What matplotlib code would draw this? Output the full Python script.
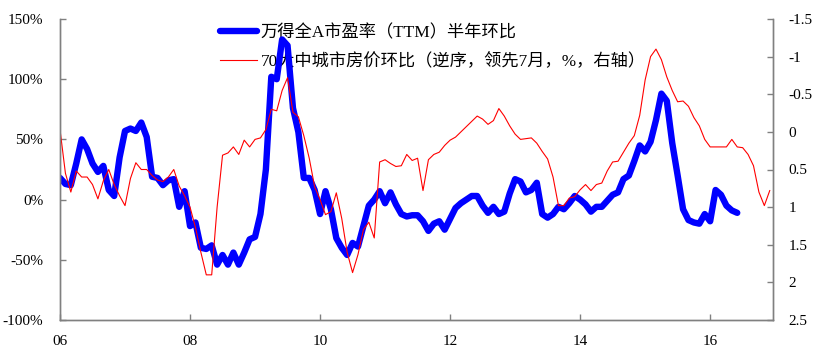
import numpy as np
import matplotlib
matplotlib.use("Agg")
import matplotlib.pyplot as plt

# 万得全A市盈率(TTM)半年环比, %, 2006-01 起按月
pe_change = [
    18, 13, 12, 30, 50, 42, 30, 23, 28, 8,
    3, 35, 57, 59, 57, 64, 52, 19, 18, 12,
    16, 17, -6, 7, -22, -19, -40, -41, -38, -54,
    -46, -54, -44, -54, -44, -33, -31, -12, 25, 102,
    100, 133, 128, 76, 56, 18, 18, 8, -12, 7,
    -8, -32, -40, -46, -36, -39, -22, -5, 0, 7,
    -3, 6, -4, -12, -14, -13, -13, -18, -26, -20,
    -18, -25, -16, -7, -3, 0, 3, 3, -5, -11,
    -6, -12, -10, 5, 17, 15, 6, 8, 14, -12,
    -15, -12, -6, -8, -3, 3, 0, -4, -10, -6,
    -6, -1, 4, 6, 17, 20, 32, 45, 40, 48,
    66, 88, 82, 47, 20, -8, -17, -19, -20, -12,
    -18, 8, 4, -5, -9, -11,
]

# 70大中城市房价环比(逆序, 领先7月), %, 右轴
house_change = [
    -0.03, 0.55, 0.80, 0.52, 0.60, 0.60, 0.70, 0.89, 0.65, 0.50,
    0.70, 0.85, 0.98, 0.62, 0.41, 0.50, 0.50, 0.58, 0.64, 0.66,
    0.60, 0.50, 0.72, 0.85, 1.00, 1.27, 1.60, 1.90, 1.90, 1.00,
    0.31, 0.28, 0.20, 0.30, 0.11, 0.20, 0.10, 0.08, -0.03, -0.30,
    -0.28, -0.55, -0.72, -0.26, -0.20, 0.05, 0.35, 0.73, 0.90, 1.10,
    1.06, 0.81, 1.15, 1.60, 1.87, 1.63, 1.30, 1.20, 1.41, 0.40,
    0.37, 0.42, 0.46, 0.45, 0.30, 0.38, 0.35, 0.78, 0.37, 0.30,
    0.27, 0.18, 0.11, 0.07, 0.00, -0.07, -0.14, -0.21, -0.17, -0.10,
    -0.15, -0.31, -0.21, -0.08, 0.03, 0.10, 0.09, 0.08, 0.15, 0.26,
    0.36, 0.60, 0.98, 0.98, 0.88, 0.86, 0.77, 0.70, 0.78, 0.70,
    0.68, 0.52, 0.40, 0.39, 0.27, 0.15, 0.05, -0.22, -0.69, -1.00,
    -1.10, -0.96, -0.73, -0.55, -0.40, -0.41, -0.34, -0.19, -0.08, 0.10,
    0.20, 0.20, 0.20, 0.20, 0.10, 0.20, 0.21, 0.30, 0.45, 0.80,
    0.98, 0.78,
]

x_tick_labels = ["06", "08", "10", "12", "14", "16"]
left_ticks = [-100, -50, 0, 50, 100, 150]
right_ticks = [-1.5, -1, -0.5, 0, 0.5, 1, 1.5, 2, 2.5]

pe_label = "万得全A市盈率（TTM）半年环比"
house_label = "70大中城市房价环比（逆序，领先7月，%，右轴）"

SERIF = ["Liberation Serif", "DejaVu Serif"]
LEGEND_FONT = ["Liberation Serif", "Noto Sans CJK SC", "DejaVu Sans"]
AXIS_GREY = "#808080"


def style_axis(ax):
    for side in ["left", "right", "bottom"]:
        ax.spines[side].set_color(AXIS_GREY)
        ax.spines[side].set_linewidth(1.0)
    ax.spines["top"].set_visible(False)
    ax.tick_params(direction="in", length=4, width=1.0, color=AXIS_GREY,
                   labelsize=11, labelcolor="black")
    for lab in ax.get_xticklabels() + ax.get_yticklabels():
        lab.set_family(SERIF)


fig = plt.figure(figsize=(8.27, 3.52), dpi=100)
ax = fig.add_axes([60 / 827, 32 / 352, 713 / 827, 301 / 352])
ax2 = ax.twinx()

months_pe = np.arange(len(pe_change))
months_house = np.arange(len(house_change))

l1, = ax.plot(months_pe, pe_change, color="#0000FF", lw=4.6,
              solid_capstyle="round", solid_joinstyle="round", label=pe_label)
l2, = ax2.plot(months_house, house_change, color="#FF0000", lw=0.8, label=house_label)

ax.set_xlim(0, 131.6)
ax.set_ylim(-100, 150)
ax.set_yticks(left_ticks)
ax.set_yticklabels([f"{v}%" for v in left_ticks])
ax.set_xticks(np.arange(len(x_tick_labels)) * 24)
ax.set_xticklabels(x_tick_labels)

ax2.set_ylim(2.5, -1.5)
ax2.set_yticks(right_ticks)
ax2.set_yticklabels([f"{v:g}" for v in right_ticks])

style_axis(ax)
style_axis(ax2)
ax.tick_params(axis="y", pad=12)
ax.tick_params(axis="x", pad=11)
ax2.tick_params(axis="y", pad=11)

leg = ax.legend(
    [l1, l2], [pe_label, house_label],
    loc="upper left",
    bbox_to_anchor=(220 / 827, 1 - 25 / 352),
    bbox_transform=fig.transFigure,
    frameon=False,
    borderpad=0, borderaxespad=0,
    handlelength=2.15, handletextpad=0.2, labelspacing=0.68,
    prop={"family": LEGEND_FONT, "size": 12.4},
)
leg.set_zorder(1)

fig.savefig("out.png", dpi=100)
plt.close(fig)
